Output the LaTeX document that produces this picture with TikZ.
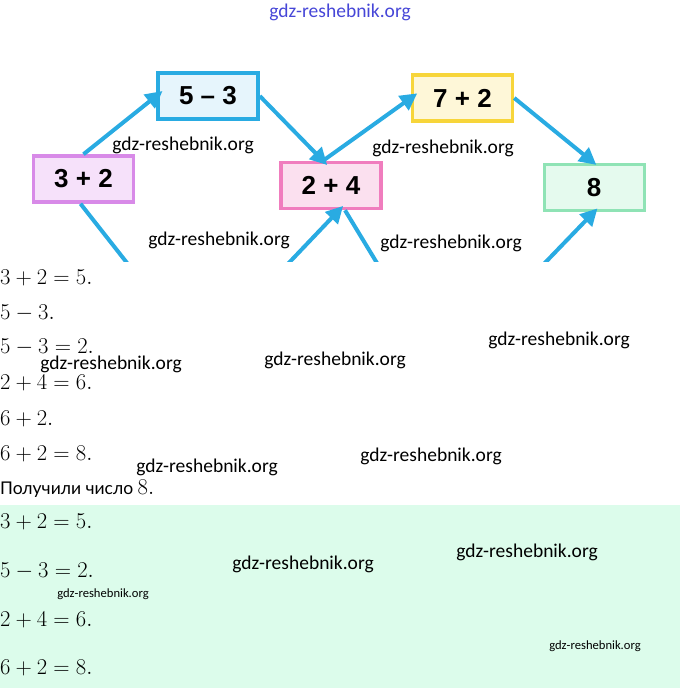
\RequirePackage{fix-cm}
\documentclass[tikz,border=0pt]{standalone}
\usepackage{amsmath}
\usepackage{fontspec}
\newfontfamily\boxfont{Liberation Sans}
\newfontfamily\markfont{Carlito}
\newfontfamily\rufont{Lato}
\usetikzlibrary{arrows.meta}

\definecolor{arrblue}{RGB}{41,171,226}
\definecolor{mintbg}{RGB}{220,252,235}
\definecolor{markblue}{RGB}{70,70,215}
\definecolor{lilacline}{RGB}{216,138,232}
\definecolor{lilacfill}{RGB}{246,225,250}
\definecolor{skyline}{RGB}{41,171,226}
\definecolor{skyfill}{RGB}{230,245,252}
\definecolor{pinkline}{RGB}{240,125,190}
\definecolor{pinkfill}{RGB}{251,224,239}
\definecolor{goldline}{RGB}{247,213,58}
\definecolor{goldfill}{RGB}{254,247,216}
\definecolor{mintline}{RGB}{143,227,181}
\definecolor{mintfill}{RGB}{229,250,238}

\begin{document}
\begin{tikzpicture}[x=1pt,y=-1pt,
  numbox/.style={draw, line width=3.5pt, minimum width=100pt, minimum height=46pt, inner sep=0pt,
    font=\boxfont\bfseries\fontsize{26}{30}\selectfont},
  arr/.style={draw=arrblue, line width=4pt, -{Triangle[length=17pt,width=17pt]}},
  wm/.style={inner sep=0pt, font=\markfont\fontsize{19.5}{22}\selectfont},
  wmsmall/.style={inner sep=0pt, font=\markfont\fontsize{12.6}{15}\selectfont},
  eq/.style={anchor=base west, inner sep=0pt, font=\fontsize{22.6}{26}\selectfont}]
\useasboundingbox (0,0) rectangle (680,688);

%Shape: Rectangle (answer area)
\fill[mintbg] (0,505) rectangle (680,688);

% Boxes
\node[numbox, draw=lilacline, fill=lilacfill] (n32) at (83.5,179) {3 + 2};
\node[numbox, draw=skyline, fill=skyfill] (n53) at (208,96) {5 \textendash\ 3};
\node[numbox, draw=pinkline, fill=pinkfill] (n24) at (331,185.5) {2 + 4};
\node[numbox, draw=goldline, fill=goldfill] (n72) at (462.5,98) {7 + 2};
\node[numbox, line width=3pt, draw=mintline, fill=mintfill] (n8) at (594,187.5) {8};

% loose ends below the cut
\coordinate (l1) at (131,268);
\coordinate (l2) at (284,268);
\coordinate (l3) at (380,268);
\coordinate (l4) at (540,268);

% Arrows
\begin{scope}
\clip (0,0) rectangle (680,261);
\draw[arr, shorten >=-8pt] (n32.north) -- (n53.west);
\draw[arr, shorten >=-6pt] (n53.east) -- ([xshift=-8pt]n24.north);
\draw[arr, shorten >=-8pt] ([xshift=-8pt]n24.north) -- (n72.west);
\draw[arr, shorten >=-3pt] (n72.east) -- (n8.north);
\draw[arr, shorten >=-6pt] (l2) -- ([xshift=8pt]n24.south);
\draw[arr, -] ([xshift=14pt]n24.south) -- (l3);
\draw[arr, shorten >=-5pt] (l4) -- (n8.south);
\draw[arr, -] ([xshift=-3pt]n32.south) -- (l1);
\end{scope}

% Text Node
\node[eq] (e1) at (0,284) {$3+2=5.$};
\node[eq] (e2) at (0,319) {$5-3.$};
\node[eq] (e3) at (0,353) {$5-3=2.$};
\node[eq] (e4) at (0,389) {$2+4=6.$};
\node[eq] (e5) at (0,425) {$6+2.$};
\node[eq] (e6) at (0,460) {$6+2=8.$};
\node[eq] (e7) at (0,494) {{\rufont\fontsize{17.5}{20}\selectfont Получили число }$8.$};
% Text Node
\node[eq] (a1) at (0,528) {$3+2=5.$};
\node[eq] (a2) at (0,577) {$5-3=2.$};
\node[eq] (a3) at (0,626) {$2+4=6.$};
\node[eq] (a4) at (0,674) {$6+2=8.$};

% Watermarks
\node[wm, text=markblue] (w0) at (340,12) {gdz-reshebnik.org};
\node[wm] (w1) at (183,145) {gdz-reshebnik.org};
\node[wm] (w2) at (443,148) {gdz-reshebnik.org};
\node[wm] (w3) at (219,240) {gdz-reshebnik.org};
\node[wm] (w4) at (451,243) {gdz-reshebnik.org};
\node[wm] (w5) at (111,364) {gdz-reshebnik.org};
\node[wm] (w6) at (335,360) {gdz-reshebnik.org};
\node[wm] (w7) at (559,340) {gdz-reshebnik.org};
\node[wm] (w8) at (207,467) {gdz-reshebnik.org};
\node[wm] (w9) at (431,456) {gdz-reshebnik.org};
\node[wm] (w10) at (303,564) {gdz-reshebnik.org};
\node[wm] (w11) at (527,552) {gdz-reshebnik.org};
\node[wmsmall] (w12) at (103,594) {gdz-reshebnik.org};
\node[wmsmall] (w13) at (595,646) {gdz-reshebnik.org};
\end{tikzpicture}
\end{document}
